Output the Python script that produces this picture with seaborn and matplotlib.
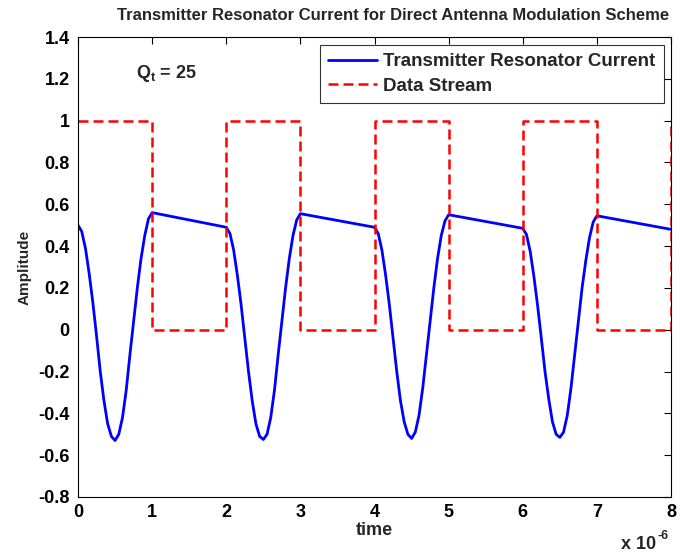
import numpy as np
import pandas as pd
import matplotlib
matplotlib.use("Agg")
import matplotlib.pyplot as plt
from matplotlib.ticker import FuncFormatter, MultipleLocator
import seaborn as sns

# Bit boundaries (microseconds) and the transmitted data stream
bit_times_us = [0, 1, 2, 3, 4, 5, 6, 7, 8]
bits = [1, 0, 1, 0, 1, 0, 1, 0, 1]

# Resonator current during each "1" bit, sampled every 0.05 us
pulse_start_us = [0, 2, 4, 6]
pulse_1 = [0.50, 0.47, 0.39, 0.27, 0.13, -0.03, -0.20, -0.34, -0.45, -0.51, -0.53,
           -0.50, -0.42, -0.29, -0.12, 0.04, 0.20, 0.34, 0.45, 0.53, 0.56]
pulse_2 = [0.49, 0.46, 0.38, 0.26, 0.12, -0.04, -0.20, -0.34, -0.45, -0.51, -0.525,
           -0.50, -0.42, -0.29, -0.12, 0.04, 0.20, 0.34, 0.45, 0.525, 0.555]
pulse_3 = [0.49, 0.46, 0.38, 0.26, 0.12, -0.04, -0.20, -0.34, -0.44, -0.50, -0.52,
           -0.49, -0.41, -0.28, -0.12, 0.04, 0.20, 0.34, 0.45, 0.52, 0.55]
pulse_4 = [0.485, 0.455, 0.375, 0.255, 0.115, -0.04, -0.20, -0.33, -0.44, -0.50, -0.515,
           -0.49, -0.41, -0.28, -0.12, 0.04, 0.20, 0.33, 0.44, 0.515, 0.545]
# Current at the end of the last "0" bit
final_time_us = 8.0
final_current = 0.48

pulses = [pulse_1, pulse_2, pulse_3, pulse_4]
t_cur, i_cur = [], []
for start, vals in zip(pulse_start_us, pulses):
    offs = np.linspace(0, 1, len(vals))
    t_cur.extend(start + offs)
    i_cur.extend(vals)
t_cur.append(final_time_us)
i_cur.append(final_current)

current_df = pd.DataFrame({"time": np.array(t_cur) * 1e-6, "amp": i_cur})
data_df = pd.DataFrame({"time": np.array(bit_times_us) * 1e-6, "amp": bits})

sns.set_style("white")
plt.rcParams["font.family"] = ["Liberation Sans", "DejaVu Sans"]
plt.rcParams["font.weight"] = "bold"

fig = plt.figure(figsize=(6.85, 5.54), dpi=100)
ax = fig.add_axes([0.1139, 0.1029, 0.8657, 0.8303])

sns.lineplot(data=current_df, x="time", y="amp", ax=ax, color="#0000ff",
             linewidth=2.0, estimator=None, sort=False,
             label="Transmitter Resonator Current")
sns.lineplot(data=data_df, x="time", y="amp", ax=ax, color="#ff0000",
             linewidth=1.8, estimator=None, sort=False, drawstyle="steps-post",
             dashes=False, label="Data Stream")
ax.lines[1].set_linestyle((0, (4, 2)))

ax.set_xlim(0, 8e-6)
ax.set_ylim(-0.8, 1.4)
ax.xaxis.set_major_locator(MultipleLocator(1e-6))
ax.yaxis.set_major_locator(MultipleLocator(0.2))
ax.xaxis.set_major_formatter(FuncFormatter(lambda v, p: f"{v * 1e6:g}"))
ax.yaxis.set_major_formatter(FuncFormatter(lambda v, p: f"{v:g}" if abs(v) > 1e-9 else "0"))

for s in ax.spines.values():
    s.set_visible(True)
    s.set_color("black")
    s.set_linewidth(0.8)
ax.tick_params(direction="in", length=5, width=0.8, top=True, right=True,
               labelsize=13, colors="black")
ax.tick_params(axis="y", pad=6)
ax.tick_params(axis="x", pad=5)
for lab in ax.get_xticklabels() + ax.get_yticklabels():
    lab.set_fontweight("bold")

ax.set_xlabel("time", fontsize=13, fontweight="bold", labelpad=1)
ax.set_ylabel("Amplitude", fontsize=11, fontweight="bold", labelpad=5)
ax.set_title("Transmitter Resonator Current for Direct Antenna Modulation Scheme",
             fontsize=12, fontweight="bold", pad=12, x=0.531)

# Scale factor for the time axis
ax.text(0.975, -0.085, "x 10", transform=ax.transAxes, ha="right", va="top",
        fontsize=13, fontweight="bold")
ax.text(0.978, -0.072, "-6", transform=ax.transAxes, ha="left", va="top",
        fontsize=9, fontweight="bold")
ax.text(0.78e-6, 1.225, r"Q$_\mathregular{t}$ = 25", fontsize=13, fontweight="bold",
        va="center", ha="left")

leg = ax.legend(loc="upper right", fontsize=13.5, frameon=True, fancybox=False,
                edgecolor="black", handlelength=2.6, borderaxespad=0.4,
                borderpad=0.45, labelspacing=0.4, handletextpad=0.3)
leg.get_frame().set_linewidth(0.8)
for t in leg.get_texts():
    t.set_fontweight("bold")

fig.savefig("out.png", dpi=100, facecolor="white")
